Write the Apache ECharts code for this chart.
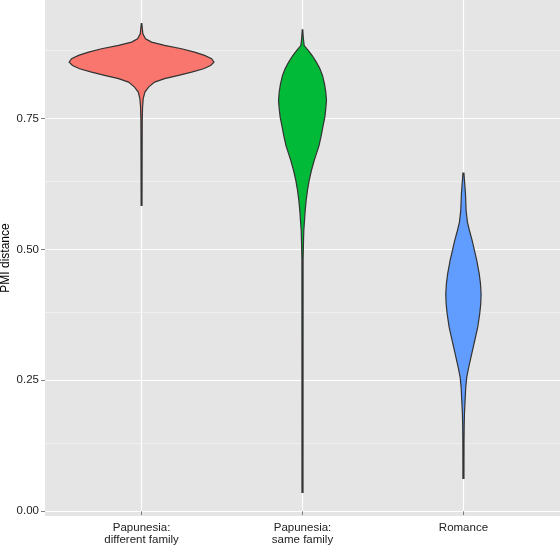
<!DOCTYPE html>
<html>
<head>
<meta charset="utf-8">
<script src="https://cdn.jsdelivr.net/npm/echarts@6/dist/echarts.min.js"></script>
<style>
  html, body { margin: 0; padding: 0; background: #fff; }
  #chart { width: 560px; height: 550px; }
</style>
</head>
<body>
<div id="chart"></div>
<script>
// groups on the x axis (positions 1, 2, 3)
const categories = ['Papunesia:\ndifferent family', 'Papunesia:\nsame family', 'Romance'];
const colors = ['#F8766D', '#00BA38', '#619CFF'];
const yTicks = [0, 0.25, 0.5, 0.75];
const yMinor = [0.125, 0.375, 0.625, 0.875];

// violin outlines: PMI distance and relative density (widest violin = 1)
const diffFamY = [0.584, 0.746, 0.7716, 0.7876, 0.8002, 0.8097, 0.8193, 0.8258, 0.8321, 0.8384, 0.8448,
  0.8511, 0.8574, 0.8639, 0.8702, 0.8765, 0.8830, 0.8893, 0.8956, 0.9021, 0.9116, 0.931];
const diffFamD = [0.006, 0.009, 0.014, 0.023, 0.046, 0.097, 0.180, 0.318, 0.511, 0.691, 0.856,
  0.953, 1.0, 0.967, 0.870, 0.732, 0.552, 0.318, 0.138, 0.055, 0.018, 0.004];

const sameFamY = [0.036, 0.479, 0.517, 0.536, 0.555, 0.574, 0.594, 0.613, 0.632, 0.651, 0.670, 0.689,
  0.698, 0.718, 0.737, 0.752, 0.769, 0.784, 0.800, 0.816, 0.832, 0.845, 0.857, 0.870, 0.880, 0.889, 0.905, 0.919];
const sameFamD = [0.007, 0.008, 0.014, 0.018, 0.028, 0.037, 0.051, 0.069, 0.093, 0.124, 0.162, 0.207,
  0.228, 0.260, 0.286, 0.308, 0.322, 0.331, 0.322, 0.304, 0.276, 0.239, 0.193, 0.134, 0.079, 0.023, 0.010, 0.004];

const romanceY = [0.063, 0.130, 0.161, 0.186, 0.212, 0.237, 0.256, 0.275, 0.301, 0.326, 0.352, 0.377,
  0.396, 0.415, 0.435, 0.454, 0.479, 0.498, 0.517, 0.536, 0.552, 0.574, 0.606, 0.632, 0.6456];
const romanceD = [0.007, 0.008, 0.010, 0.014, 0.023, 0.032, 0.046, 0.073, 0.115, 0.156, 0.198, 0.225,
  0.239, 0.244, 0.235, 0.217, 0.184, 0.152, 0.120, 0.083, 0.055, 0.037, 0.028, 0.014, 0.007];

const violins = [[diffFamY, diffFamD], [sameFamY, sameFamD], [romanceY, romanceD]];
const halfMax = 0.45; // ggplot default width 0.9

const font = "'Liberation Sans', Arial, sans-serif";

function violinRenderer(ys, ds, color) {
  return function (params, api) {
    const cx = api.value(0);
    const pts = [];
    for (let i = 0; i < ys.length; i++) {
      pts.push(api.coord([cx + ds[i] * halfMax, ys[i]]));
    }
    for (let i = ys.length - 1; i >= 0; i--) {
      pts.push(api.coord([cx - ds[i] * halfMax, ys[i]]));
    }
    return {
      type: 'polygon',
      shape: { points: pts },
      style: { fill: color, stroke: '#333333', lineWidth: 1.2 }
    };
  };
}

const series = violins.map((v, i) => ({
  type: 'custom',
  name: categories[i],
  z: 3,
  data: [[i + 1]],
  renderItem: violinRenderer(v[0], v[1], colors[i])
}));

// minor grid lines
series.unshift({
  type: 'line',
  z: 1,
  data: [],
  silent: true,
  markLine: {
    silent: true,
    z: 1,
    symbol: 'none',
    animation: false,
    label: { show: false },
    lineStyle: { color: '#F2F2F2', width: 0.8, type: 'solid' },
    data: yMinor.map(v => ({ yAxis: v }))
  }
});

const chart = echarts.init(document.getElementById('chart'));
chart.setOption({
  animation: false,
  grid: {
    left: 45, right: 0, top: 0, bottom: 34,
    outerBoundsMode: 'none',
    containLabel: false,
    show: true, backgroundColor: '#E5E5E5', borderWidth: 0
  },
  xAxis: {
    type: 'value',
    min: 0.4,
    max: 3.6,
    axisLine: { show: false },
    axisTick: { show: true, customValues: [1, 2, 3], length: 4, lineStyle: { color: '#7F7F7F' } },
    axisLabel: {
      customValues: [1, 2, 3],
      formatter: v => categories[Math.round(v) - 1],
      fontFamily: font, fontSize: 11.5, color: '#222', lineHeight: 12, margin: 6
    },
    splitLine: { show: true, lineStyle: { color: '#FFFFFF', width: 1.2 } }
  },
  yAxis: {
    type: 'value',
    min: -0.009,
    max: 0.976,
    name: 'PMI distance',
    nameLocation: 'middle',
    nameGap: 33,
    nameMoveOverlap: false,
    nameTextStyle: { fontFamily: font, fontSize: 12, color: '#000' },
    axisLine: { show: false },
    axisTick: { show: true, customValues: yTicks, length: 4, lineStyle: { color: '#7F7F7F' } },
    axisLabel: {
      customValues: yTicks,
      formatter: v => v.toFixed(2),
      fontFamily: font, fontSize: 11.5, color: '#222', margin: 6
    },
    splitLine: { show: true, lineStyle: { color: '#FFFFFF', width: 1.2 } }
  },
  series: series
});
</script>
</body>
</html>
